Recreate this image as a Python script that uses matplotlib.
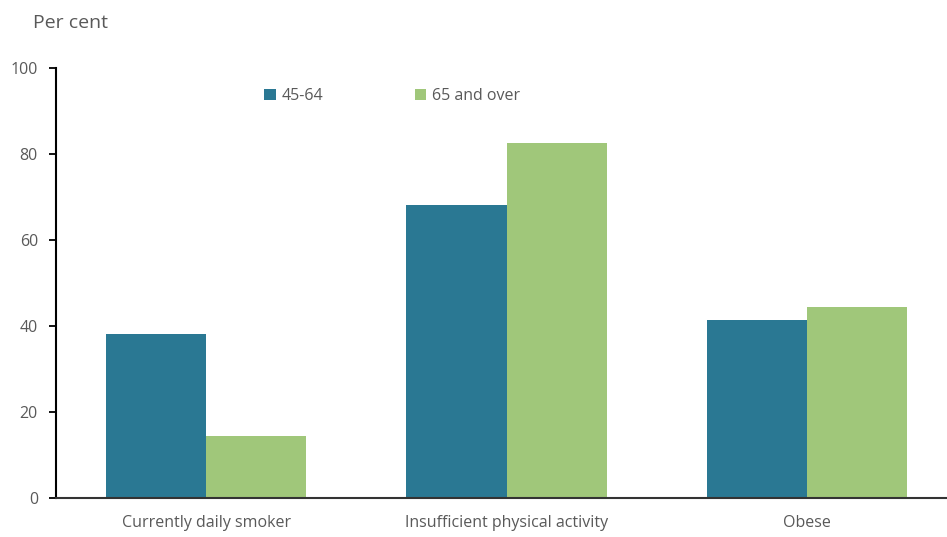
import matplotlib.pyplot as plt
import numpy as np

cats = ["Currently daily smoker", "Insufficient physical activity", "Obese"]
grp = ["45-64", "65 and over"]
v1 = [38.3, 68.3, 41.5]
v2 = [14.4, 82.6, 44.6]
cl = ["#2a7893", "#a0c77a"]

plt.rcParams["font.family"] = ["Open Sans", "DejaVu Sans"]
tc = "#595959"

fig = plt.figure(figsize=(9.47, 5.37), dpi=100)
ax = fig.add_axes([56 / 947, (537 - 498.3) / 537, 891 / 947, 430 / 537])

x = np.arange(len(cats))
w = 1 / 3
ax.bar(x - w / 2, v1, w, color=cl[0], label=grp[0])
ax.bar(x + w / 2, v2, w, color=cl[1], label=grp[1])

ax.set_xlim(-0.5, 2.5 - 10 / 300)
ax.set_ylim(0, 100)
ax.set_yticks([0, 20, 40, 60, 80, 100])
ax.set_xticks(x)
ax.set_xticklabels(cats)
ax.tick_params(axis="x", length=0, pad=12, labelsize=11.5, labelcolor=tc)
ax.tick_params(axis="y", length=5, width=1.3, direction="out", pad=8, labelsize=11.5, labelcolor=tc)

for s in ["top", "right"]:
    ax.spines[s].set_visible(False)
ax.spines["left"].set_linewidth(1.5)
ax.spines["left"].set_color("black")
ax.spines["bottom"].set_linewidth(1.5)
ax.spines["bottom"].set_color("#333333")

lg = ax.legend(ncol=2, frameon=False, loc="center left",
               bbox_to_anchor=((250 - 56) / 891, (498.3 - 96) / 430),
               handlelength=0.7, handleheight=0.7, handletextpad=0.4,
               columnspacing=5.7, fontsize=11.5)
for t in lg.get_texts():
    t.set_color(tc)

fig.text(33 / 947, 1 - 23 / 537, "Per cent", fontsize=14, color=tc, va="center", ha="left")

fig.savefig("out.png", dpi=100)
